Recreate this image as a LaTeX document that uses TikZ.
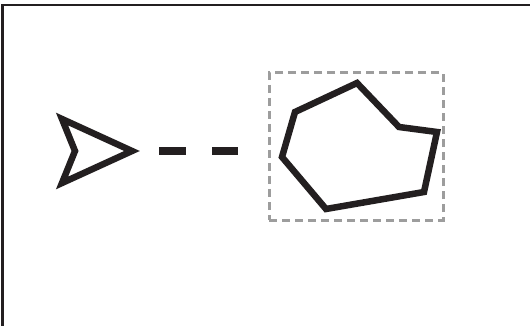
\documentclass[tikz,border=0pt]{standalone}
\usepackage{tikz}
\usetikzlibrary{positioning}

\definecolor{ink}{HTML}{231F20}
\definecolor{framegray}{HTML}{9D9D9D}

\begin{document}
\begin{tikzpicture}
	[x=1pt,y=-1pt,
	 line join=miter,
	 shapeline/.style={draw=ink,line width=6.5pt},
	 selbox/.style={draw=framegray,line width=3pt,dash pattern=on 8pt off 5pt,
	   minimum width=174pt,minimum height=147pt,inner sep=0pt},
	 link/.style={draw=ink,line width=8pt,dash pattern=on 27pt off 26pt}]
	\useasboundingbox (0,0) rectangle (530,326);
	\clip (0,0) rectangle (530,326);
	% outer frame
	\draw[ink,line width=2.5pt] (2.5,5) rectangle (560,360);
	% pointer
	\coordinate (tip) at (132,151);
	\draw[shapeline] (62,119) -- (tip) -- (62,183) -- (75,151) -- cycle;
	% selection box and the shape inside it
	\node[selbox] (box) at (356,146.5) {};
	\draw[shapeline] (295,112) -- (357,83) -- (399,127) -- (437,132)
	  -- (424,192) -- (326,209) -- (282,157) -- cycle;
	% dashed link
	\draw[link,shorten <=27pt,shorten >=30pt] (tip) -- (box.west |- tip);
\end{tikzpicture}
\end{document}
